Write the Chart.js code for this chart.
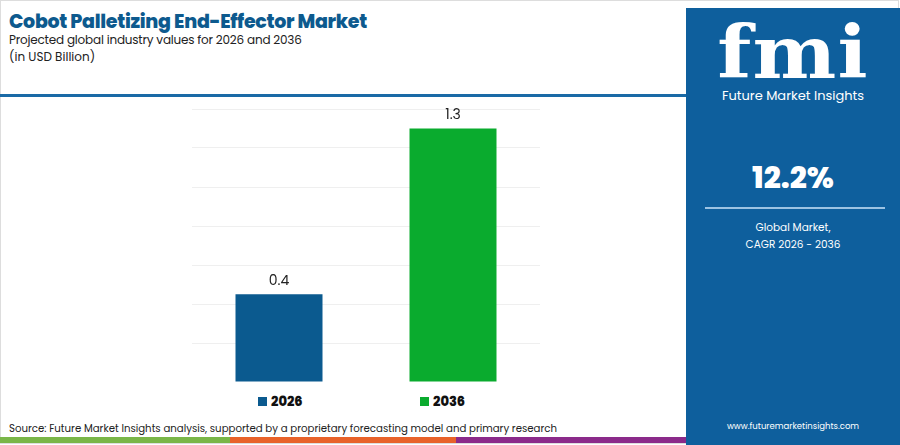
<!DOCTYPE html>
<html><head><meta charset="utf-8">
<script src="https://cdn.jsdelivr.net/npm/chart.js@4"></script>
<style>
body{margin:0;width:900px;height:445px;position:relative;overflow:hidden;background:#fff;font-family:Poppins,"Open Sans",sans-serif}
.abs{position:absolute}
</style></head><body>
<div class="abs" style="left:0;top:0;width:899px;height:444px;border:1px solid #ddd;box-sizing:border-box"></div>
<div class="abs" style="left:9px;top:7px;font-size:19px;font-weight:800;color:#0d5a8e;letter-spacing:-0.3px">Cobot Palletizing End-Effector Market</div>
<div class="abs" style="left:9px;top:31px;font-size:12px;letter-spacing:-0.2px;color:#222">Projected global industry values for 2026 and 2036</div>
<div class="abs" style="left:9px;top:48px;font-size:12px;color:#222">(in USD Billion)</div>
<div class="abs" style="left:0;top:94px;width:686px;height:3px;background:#1a6aa6"></div>
<div class="abs" style="left:686px;top:8px;width:214px;height:437px;background:#0e5f9d"></div>
<div class="abs" style="left:686px;top:10px;width:214px;text-align:center;color:#fff;font-size:72px;font-weight:900;font-family:'DejaVu Serif',serif;letter-spacing:1px;transform:scaleX(1.1)">fmi</div>
<div class="abs" style="left:686px;top:86px;width:214px;text-align:center;color:#fff;font-size:13px">Future Market Insights</div>
<div class="abs" style="left:686px;top:155px;width:214px;text-align:center;color:#fff;font-size:30px;font-weight:800">12.2%</div>
<div class="abs" style="left:705px;top:207px;width:180px;height:2px;background:#9cc3e3"></div>
<div class="abs" style="left:686px;top:219px;width:214px;text-align:center;color:#fff;font-size:10.5px;line-height:17px">Global Market,<br>CAGR 2026 - 2036</div>
<div class="abs" style="left:686px;top:420px;width:214px;text-align:center;color:#fff;font-size:8.5px">www.futuremarketinsights.com</div>
<div class="abs" style="left:0;top:437px;width:230px;height:6px;background:#7ab648"></div>
<div class="abs" style="left:230px;top:437px;width:226px;height:6px;background:#e8622a"></div>
<div class="abs" style="left:456px;top:437px;width:230px;height:6px;background:#8b2a8a"></div>
<div class="abs" style="left:9px;top:421px;font-size:10.2px;color:#222">Source: Future Market Insights analysis, supported by a proprietary forecasting model and primary research</div>
<div class="abs" style="left:258px;top:392px;font-size:13px;font-weight:800;color:#111"><span style="display:inline-block;width:9px;height:9px;background:#0b5a8f;margin-right:4px"></span>2026</div>
<div class="abs" style="left:420px;top:392px;font-size:13px;font-weight:800;color:#111"><span style="display:inline-block;width:9px;height:9px;background:#0aab2e;margin-right:4px"></span>2036</div>
<div class="abs" style="left:192px;top:99px;width:348px;height:283px"><canvas id="c"></canvas></div>
<script>
const categories=["2026","2036"];
const values=[0.45,1.3];
const valueLabels=["0.4","1.3"];
const colors=["#0b5a8f","#0aab2e"];
const labelPlugin={id:'vl',afterDatasetsDraw(ch){const ctx=ch.ctx;const m=ch.getDatasetMeta(0);ctx.save();ctx.font='14px Poppins,"Open Sans",sans-serif';ctx.fillStyle='#222';ctx.textAlign='center';ctx.textBaseline='bottom';m.data.forEach((b,i)=>ctx.fillText(valueLabels[i],b.x,b.y-6));ctx.restore();}};
new Chart(document.getElementById('c'),{type:'bar',data:{labels:categories,datasets:[{data:values,backgroundColor:colors,barPercentage:0.5,categoryPercentage:1}]},
options:{responsive:true,maintainAspectRatio:false,animation:false,layout:{padding:{top:10}},plugins:{legend:{display:false},tooltip:{enabled:false}},
scales:{x:{display:false},y:{min:0,max:1.4,ticks:{display:false,stepSize:0.2},border:{display:false},grid:{color:'#efefef',drawTicks:false}}}},plugins:[labelPlugin]});
</script></body></html>
